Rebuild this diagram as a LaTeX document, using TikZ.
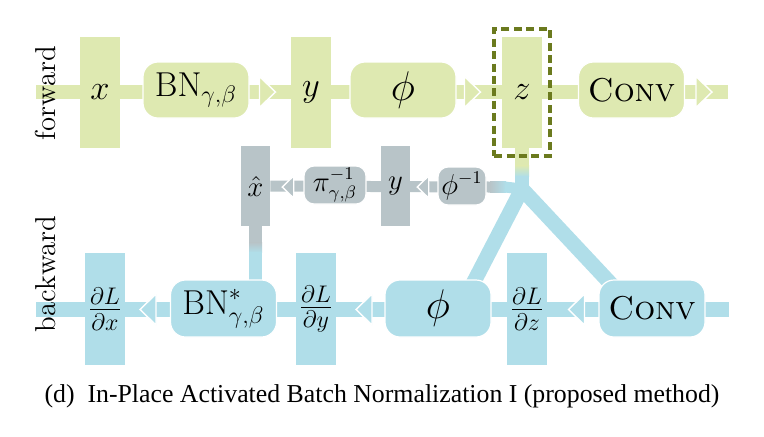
\documentclass[tikz,border=0pt]{standalone}
\usepackage{amsmath}
\usepackage{amssymb}
\usepackage{fontspec}
\newfontfamily\capfont{Liberation Serif}
\usetikzlibrary{backgrounds,fit}

\definecolor{fwdgreen}{RGB}{222,233,177}
\definecolor{bwdblue}{RGB}{176,222,233}
\definecolor{invgray}{RGB}{184,196,200}
\definecolor{markolive}{RGB}{107,122,30}

\tikzset{
  tensorF/.style={fill=fwdgreen, minimum width=20pt, minimum height=55.5pt, inner sep=0pt, font=\LARGE},
  tensorB/.style={fill=bwdblue, minimum width=20pt, minimum height=56pt, inner sep=0pt, font=\LARGE},
  tensorG/.style={fill=invgray, minimum width=14.5pt, minimum height=40pt, inner sep=0pt, font=\fontsize{13.5}{16}\selectfont},
  opF/.style={fill=fwdgreen, draw=white, line width=0.6pt, rounded corners=7.5pt, minimum width=53pt, minimum height=28pt, inner sep=0pt, font=\LARGE},
  opB/.style={fill=bwdblue, draw=white, line width=0.6pt, rounded corners=7.5pt, minimum width=53pt, minimum height=28.5pt, inner sep=0pt, font=\LARGE},
  opG/.style={fill=invgray, draw=white, line width=0.6pt, rounded corners=5pt, minimum height=19pt, inner sep=0pt, font=\fontsize{13.5}{16}\selectfont},
  convtxt/.style={font=\fontsize{16.5}{19}\selectfont},
  phitxt/.style={font=\huge},
  zmark/.style={draw=markolive, line width=2.2pt, dash pattern=on 4pt off 2.2pt, inner sep=3.75pt},
  fwdline/.style={draw=fwdgreen, line width=7pt},
  bwdline/.style={draw=bwdblue, line width=7.5pt, line join=round},
  grayline/.style={draw=invgray, line width=5.5pt},
  pics/headR/.style={code={\path[fill=#1, draw=white, line width=0.7pt] (-8,-15.5) -- (8,0) -- (-8,15.5) -- cycle;}},
  pics/headL/.style={code={\path[fill=#1, draw=white, line width=0.7pt] (8,-15.5) -- (-8,0) -- (8,15.5) -- cycle;}},
}

\begin{document}
\begin{tikzpicture}[x=0.5pt, y=-0.5pt]
  \useasboundingbox (0,0) rectangle (764,436);

  % forward pass
  \node[tensorF] (xf) at (100,92) {$x$};
  \node[opF] (bnf) at (196,90) {$\mathrm{BN}_{\gamma,\beta}$};
  \node[tensorF] (yf) at (311,92) {$y$};
  \node[opF, phitxt] (phif) at (403,90) {$\phi$};
  \node[tensorF] (zf) at (522,92.5) {$z$};
  \node[opF, convtxt] (convf) at (631.5,90) {\textsc{Conv}};
  \node[zmark, fit=(zf)] (zbox) {};

  % inverse (recomputation) row
  \node[tensorG] (xh) at (255.5,186) {$\hat{x}$};
  \node[opG, minimum width=31pt] (piinv) at (335,185) {$\pi^{-1}_{\gamma,\beta}$};
  \node[tensorG] (yg) at (395.5,186) {$y$};
  \node[opG, minimum width=24pt] (phiinv) at (462,186) {$\phi^{-1}$};

  % backward pass
  \node[tensorB] (dx) at (105,309) {$\frac{\partial L}{\partial x}$};
  \node[opB] (bnb) at (223.5,308.5) {$\mathrm{BN}^{*}_{\gamma,\beta}$};
  \node[tensorB] (dy) at (316,309) {$\frac{\partial L}{\partial y}$};
  \node[opB, phitxt] (phib) at (438,308.5) {$\phi$};
  \node[tensorB] (dz) at (527,309) {$\frac{\partial L}{\partial z}$};
  \node[opB, convtxt] (convb) at (652,308.5) {\textsc{Conv}};

  % row labels and caption
  \node[rotate=90, font=\Large] (fwdlbl) at (46,93) {forward};
  \node[rotate=90, font=\Large] (bwdlbl) at (46,274) {backward};
  \node[font=\capfont\fontsize{12.9}{15}\selectfont] (cap) at (382,396)
    {(d)\enspace In-Place Activated Batch Normalization I (proposed method)};

  \coordinate (fin) at (36,92);
  \coordinate (fout) at (728,92);
  \coordinate (bin) at (36,309.5);
  \coordinate (bout) at (729,309.5);
  \coordinate (jn) at (522,189);
  \coordinate (zs) at (522,166);
  \coordinate (zb) at (522,176);
  \coordinate (gs) at (491,187);
  \coordinate (gb) at (505,187);
  \coordinate (xs) at (255.5,243);
  \coordinate (xb) at (255.5,252);
  \coordinate (bl) at (464.5,300);
  \coordinate (br) at (626,300);

  \begin{scope}[on background layer]
    \draw[fwdline] (fin) -- (fout);
    \draw[bwdline] (bin) -- (bout);
    % z is reused for the backward pass
    \draw[fwdline] (zf) -- (zs);
    \shade[top color=fwdgreen, bottom color=bwdblue] (515,165.5) rectangle (529,176.5);
    \draw[bwdline, line width=7pt] (zb) -- ([yshift=-4pt]jn);
    \draw[bwdline] (bl) -- (jn) -- (br);
    % y and x-hat recomputed from z
    \draw[grayline] (xh) -- (gs);
    \shade[left color=invgray, right color=bwdblue] (490,181.5) rectangle (506,192.5);
    \draw[bwdline, line width=5.5pt] (gb) -- (jn);
    \draw[grayline, line width=6.5pt] (xh) -- (xs);
    \shade[top color=invgray, bottom color=bwdblue] (249,242.5) rectangle (262,252.5);
    \draw[bwdline, line width=6.5pt] (xb) -- (xh |- bnb.center);
  \end{scope}

  \pic at (267.5,92) {headR=fwdgreen};
  \pic at (472.5,92) {headR=fwdgreen};
  \pic at (704,92) {headR=fwdgreen};
  \pic[scale=0.72] at (288,187) {headL=invgray};
  \pic[scale=0.72] at (423,187) {headL=invgray};
  \pic at (148,309.5) {headL=bwdblue};
  \pic at (364,309.5) {headL=bwdblue};
  \pic at (576.5,309.5) {headL=bwdblue};
\end{tikzpicture}
\end{document}
